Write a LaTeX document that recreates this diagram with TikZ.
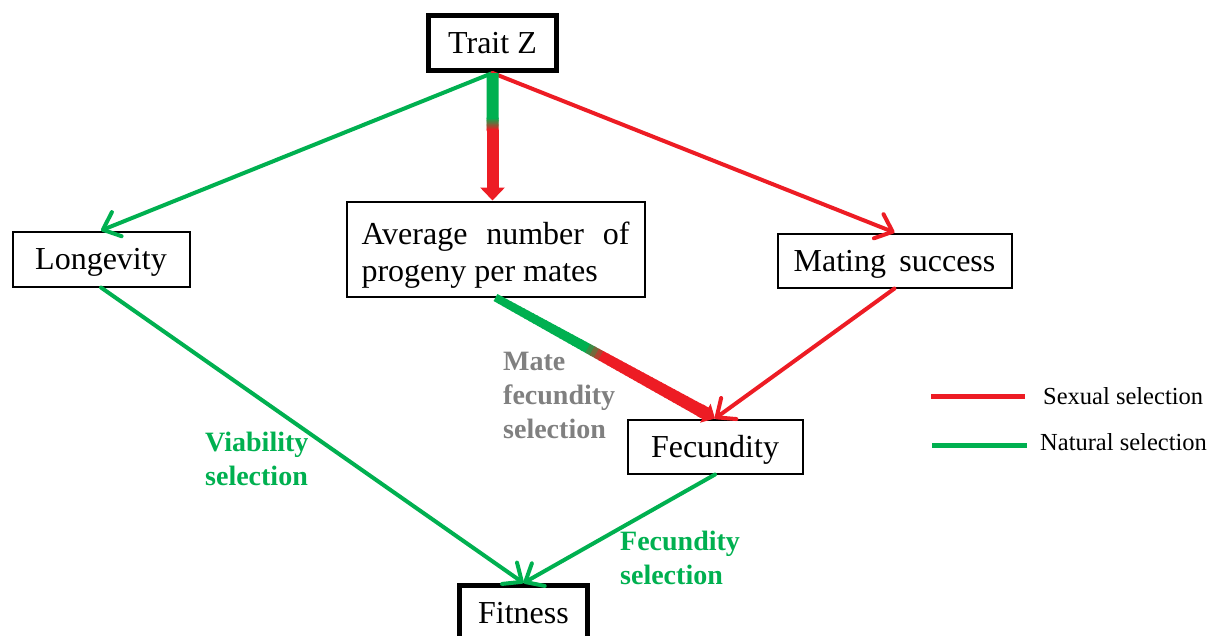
\documentclass[tikz,border=0pt]{standalone}
\usepackage{fontspec}
\setmainfont{Liberation Serif}
\usetikzlibrary{arrows.meta, calc}
\definecolor{sexred}{RGB}{237,28,36}
\definecolor{natgreen}{RGB}{0,176,80}
\definecolor{labgray}{RGB}{128,128,128}
\tikzset{
    box/.style={draw, line width=2pt, minimum height=55pt, inner sep=0pt,
        text height=21pt, text depth=0pt, font=\fontsize{32}{37}\selectfont},
    thickbox/.style={box, line width=5pt},
    sexarrow/.style={sexred, line width=4pt, line cap=round, -{Straight Barb[round, length=15pt, width=26pt]}},
    natarrow/.style={natgreen, line width=4pt, line cap=round, -{Straight Barb[round, length=15pt, width=26pt]}},
    sellabel/.style={anchor=north west, inner sep=0pt, align=left, font=\fontsize{28}{34}\bfseries\selectfont},
    legendtext/.style={anchor=base west, inner sep=0pt, font=\fontsize{24.5}{30}\selectfont},
}

\begin{document}
\begin{tikzpicture}[x=1pt, y=-1pt]
        \useasboundingbox (0,0) rectangle (1216,635);
        \clip (0,0) rectangle (1216,635);

        % boxes
        \node[thickbox, minimum width=128pt] (trait) at (492.5,43) {Trait Z};
        \node[box, minimum width=177pt] (longev) at (101,259) {Longevity};
        \node[box, minimum width=298pt, minimum height=95pt, text height=, text depth=, align=left] (avg) at (495.5,249)
            {\rule{0pt}{34pt}\makebox[268pt][s]{Average number of}\\progeny per mates};
        \node[box, minimum width=234pt, minimum height=54pt] (mating) at (894.5,260.5) {Mating\ \,success};
        \node[box, minimum width=175pt, minimum height=54pt] (fecund) at (715,446.5) {Fecundity};
        \node[thickbox, minimum width=128pt] (fitness) at (523.5,613) {Fitness};

        % thin arrows
        \draw[natarrow] (trait.south) -- (longev.north);
        \draw[sexarrow] (trait.south) -- (mating.north);
        \draw[natarrow] (longev.south) -- (fitness.north);
        \draw[natarrow] (fecund.south) -- (fitness.north);
        \draw[sexarrow] (mating.south) -- (fecund.north);

        % trait -> average, green into red
        \coordinate (vend) at (trait.south |- avg.north);
        \draw[natgreen, line width=12pt] (trait.south) -- ($(trait.south)!0.36!(vend)$);
        \foreach \i in {0,...,9}{
            \pgfmathtruncatemacro\p{\i*11}
            \draw[sexred!\p!natgreen, line width=12pt] ($(trait.south)!0.35+0.01*\i!(vend)$) -- ($(trait.south)!0.365+0.01*\i!(vend)$);
        }
        \draw[sexred, line width=12pt, -{Triangle[length=13pt, width=24pt]}] ($(trait.south)!0.445!(vend)$) -- (vend);

        % average -> fecundity, green into red, getting wider
        \foreach \i in {0,...,46}{
            \pgfmathsetmacro\t{\i/50}
            \pgfmathtruncatemacro\p{min(100,max(0,(\t-0.40)/0.08*100))}
            \pgfmathsetmacro\w{8+5*\t}
            \draw[sexred!\p!natgreen, line width=\w pt] ($(avg.south)!\t!(fecund.north)$) -- ($(avg.south)!\t+0.025!(fecund.north)$);
        }
        \draw[sexred, line width=13pt, -{Triangle[length=11pt, width=21pt]}] ($(avg.south)!0.93!(fecund.north)$) -- (fecund.north);

        % selection labels
        \node[sellabel, text=natgreen] (viab) at (205,432) {Viability\\selection};
        \node[sellabel, text=labgray] (matefec) at (503,352) {Mate\\fecundity\\selection};
        \node[sellabel, text=natgreen] (fecsel) at (620,531) {Fecundity\\selection};

        % legend
        \coordinate (sexA) at (931,396);
        \coordinate (sexB) at (1025,396);
        \coordinate (natA) at (932,445);
        \coordinate (natB) at (1027,445);
        \draw[sexred, line width=5pt] (sexA) -- (sexB);
        \draw[natgreen, line width=5pt] (natA) -- (natB);
        \node[legendtext] (sexlab) at (1043,404) {Sexual selection};
        \node[legendtext] (natlab) at (1040,450) {Natural selection};

    \end{tikzpicture}
\end{document}
